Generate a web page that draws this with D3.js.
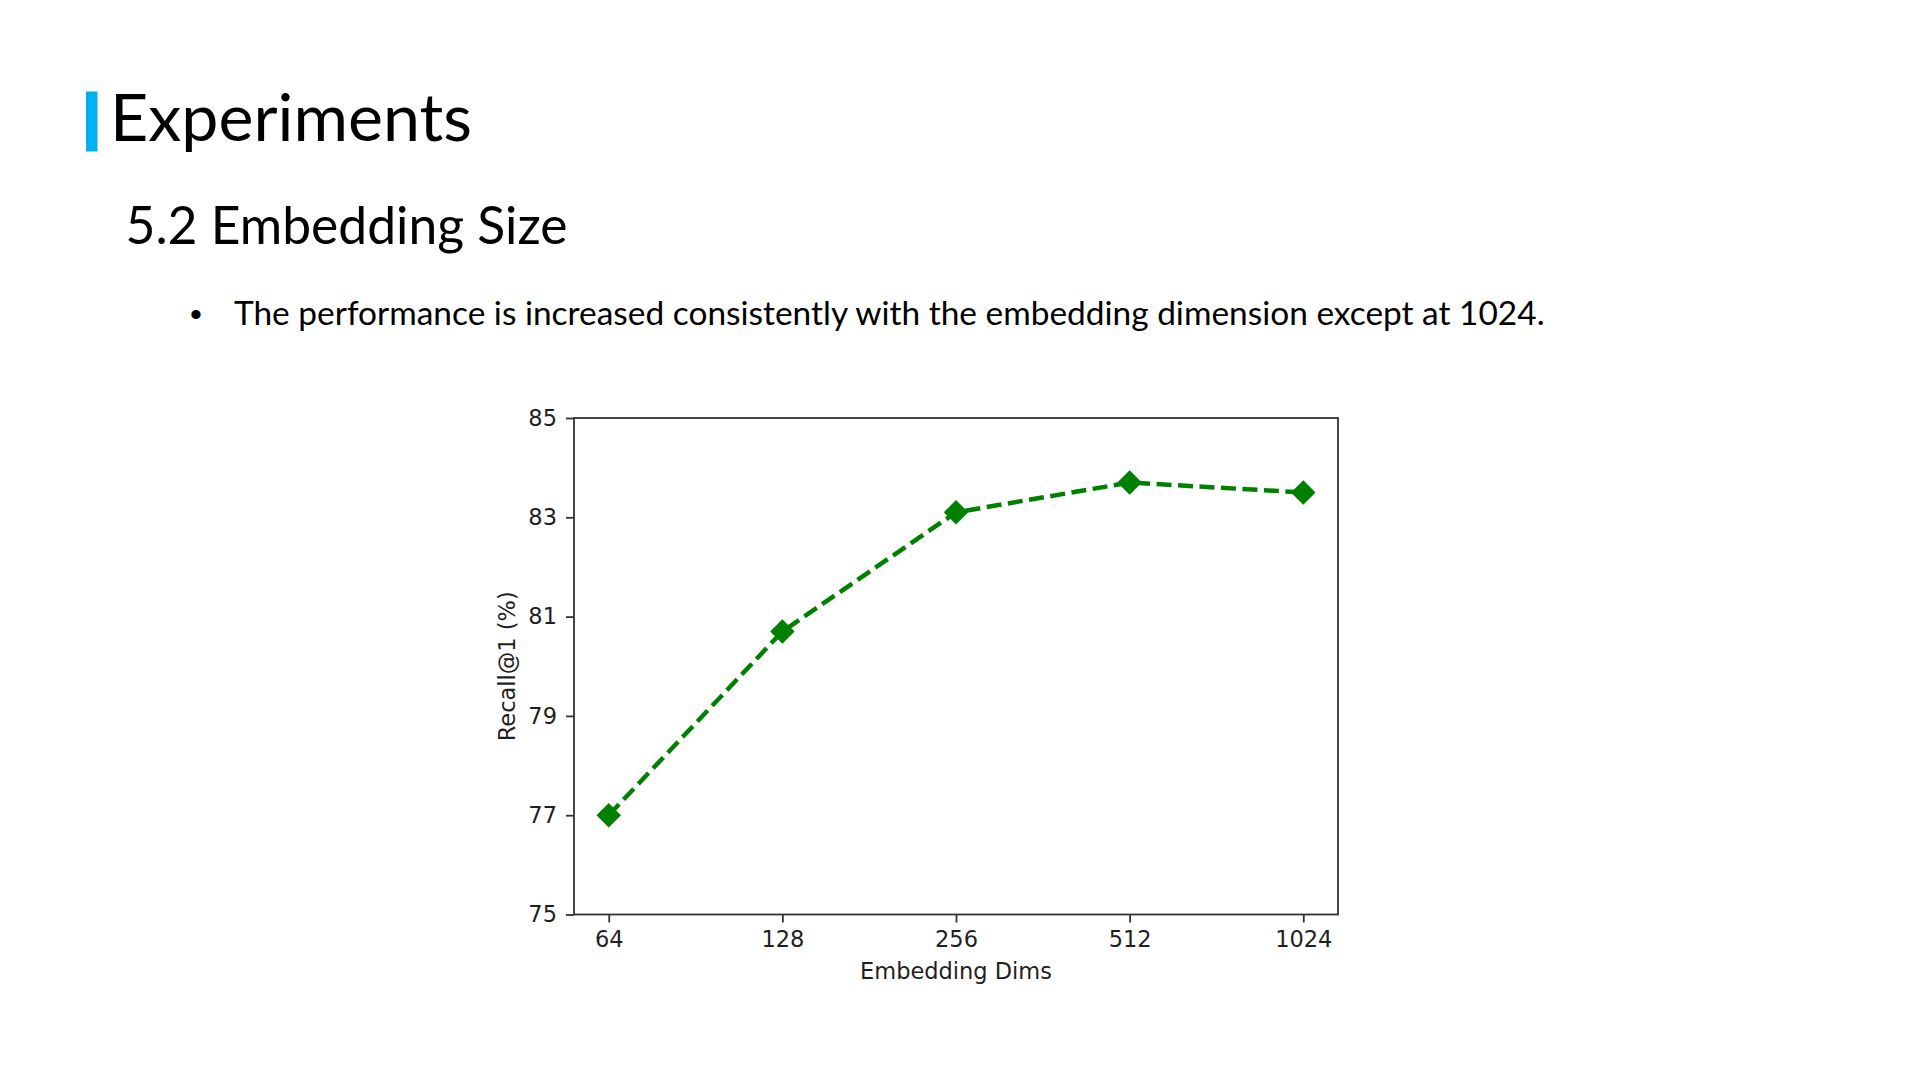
<!DOCTYPE html>
<html>
<head>
<meta charset="utf-8">
<script src="https://cdnjs.cloudflare.com/ajax/libs/d3/7.8.5/d3.min.js"></script>
<style>
  html, body { margin: 0; padding: 0; background: #ffffff; }
  svg { display: block; }
</style>
</head>
<body>
<svg id="slide" width="1920" height="1080"></svg>
<script>
// ---- data ----
const categories = ["64", "128", "256", "512", "1024"];
const recall = [77.0, 80.7, 83.1, 83.7, 83.5];
const yTicks = [75, 77, 79, 81, 83, 85];
const yDomain = [75, 85];
const titleText = "Experiments";
const subtitleText = "5.2 Embedding Size";
const bulletText = "The performance is increased consistently with the embedding dimension except at 1024.";
const xLabel = "Embedding Dims";
const yLabel = "Recall@1 (%)";

const svg = d3.select("#slide");
svg.append("rect").attr("width", 1920).attr("height", 1080).attr("fill", "#ffffff");

// fit a text element's font size so its width matches target
function fitText(sel, targetWidth) {
  const node = sel.node();
  const fs = parseFloat(sel.attr("font-size"));
  const w = node.getComputedTextLength();
  if (w > 0) sel.attr("font-size", (fs * targetWidth / w).toFixed(2));
}

const slideFont = "Lato, 'Open Sans', 'Noto Sans', sans-serif";

// title accent bar
svg.append("rect")
  .attr("x", 86).attr("y", 91.5).attr("width", 11.5).attr("height", 60)
  .attr("fill", "#00b0f0");

const title = svg.append("text")
  .attr("x", 110).attr("y", 141)
  .attr("font-family", slideFont).attr("font-size", 64)
  .attr("fill", "#000").text(titleText);
fitText(title, 362);

const subtitle = svg.append("text")
  .attr("x", 125.5).attr("y", 244)
  .attr("font-family", slideFont).attr("font-size", 50)
  .attr("fill", "#000").text(subtitleText);
fitText(subtitle, 442);

svg.append("text")
  .attr("x", 196).attr("y", 326).attr("text-anchor", "middle")
  .attr("font-family", "Arial, 'Liberation Sans', sans-serif").attr("font-size", 34)
  .attr("fill", "#000").text("\u2022");

const bullet = svg.append("text")
  .attr("x", 234).attr("y", 325)
  .attr("font-family", slideFont).attr("font-size", 30)
  .attr("fill", "#000").text(bulletText);
fitText(bullet, 1311);

// ---- chart ----
const plot = { left: 574, right: 1338, top: 418, bottom: 914.5 };
const chartFont = "'DejaVu Sans', sans-serif";
const tickColor = "#1f1f1f";

const x = d3.scalePoint().domain(categories).range([plot.left, plot.right]).padding(0.2);
const y = d3.scaleLinear().domain(yDomain).range([plot.bottom, plot.top]);

const g = svg.append("g");

// frame
g.append("rect")
  .attr("x", plot.left).attr("y", plot.top)
  .attr("width", plot.right - plot.left).attr("height", plot.bottom - plot.top)
  .attr("fill", "none").attr("stroke", "#333").attr("stroke-width", 1.8);

// x axis
const xAxis = d3.axisBottom(x).tickSize(8).tickPadding(9);
const gx = g.append("g").attr("transform", `translate(0,${plot.bottom})`).call(xAxis);
gx.select(".domain").remove();
gx.selectAll(".tick line").attr("stroke", "#333").attr("stroke-width", 1.8);
gx.selectAll(".tick text").attr("font-family", chartFont).attr("font-size", 22.5).attr("fill", tickColor);

// y axis
const yAxis = d3.axisLeft(y).tickValues(yTicks).tickFormat(d3.format("d")).tickSize(8).tickPadding(9);
const gy = g.append("g").attr("transform", `translate(${plot.left},0)`).call(yAxis);
gy.select(".domain").remove();
gy.selectAll(".tick line").attr("stroke", "#333").attr("stroke-width", 1.8);
gy.selectAll(".tick text").attr("font-family", chartFont).attr("font-size", 22.5).attr("fill", tickColor);

// axis labels
g.append("text")
  .attr("x", (plot.left + plot.right) / 2).attr("y", 979)
  .attr("text-anchor", "middle")
  .attr("font-family", chartFont).attr("font-size", 22.5).attr("fill", tickColor)
  .text(xLabel);

g.append("text")
  .attr("transform", `translate(515,${(plot.top + plot.bottom) / 2}) rotate(-90)`)
  .attr("text-anchor", "middle")
  .attr("font-family", chartFont).attr("font-size", 22.5).attr("fill", tickColor)
  .text(yLabel);

// line
const pts = categories.map((c, i) => [x(c), y(recall[i])]);
g.append("path")
  .attr("d", d3.line()(pts))
  .attr("fill", "none")
  .attr("stroke", "#008000")
  .attr("stroke-width", 4.5)
  .attr("stroke-dasharray", "15,6.5");

// diamond markers
const diamond = d3.symbol().type(d3.symbolSquare).size(250);
g.selectAll(".marker")
  .data(pts)
  .join("path")
  .attr("class", "marker")
  .attr("d", diamond())
  .attr("transform", d => `translate(${d[0]},${d[1]}) rotate(45)`)
  .attr("fill", "#008000")
  .attr("stroke", "#008000")
  .attr("stroke-width", 1.5);
</script>
</body>
</html>
